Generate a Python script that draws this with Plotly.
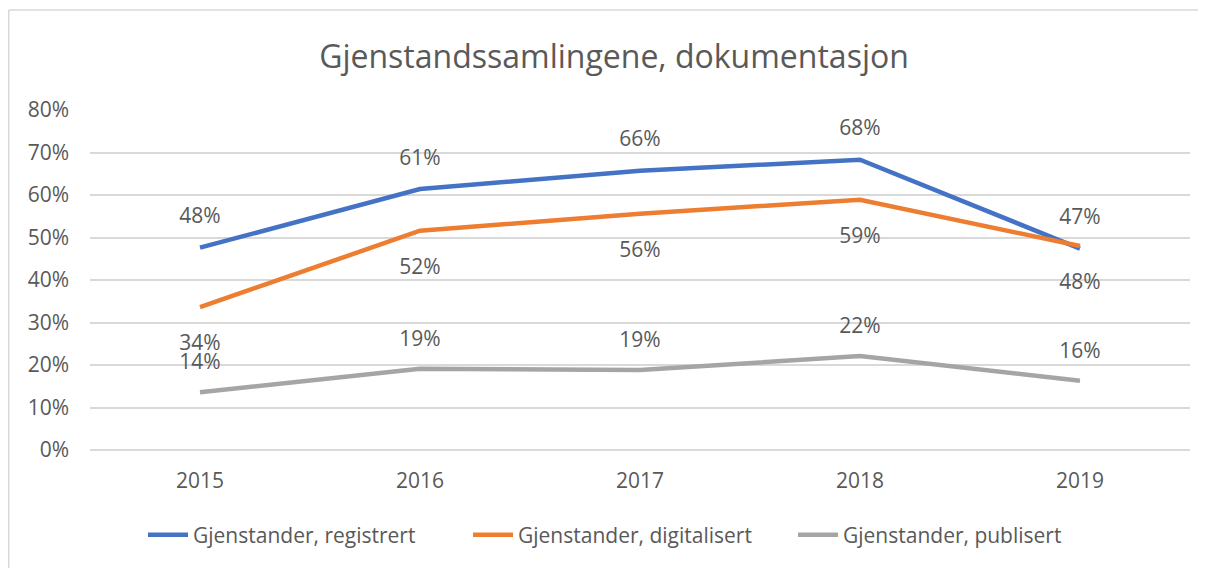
import plotly.graph_objects as go

years = ["2015", "2016", "2017", "2018", "2019"]
registrert = [0.476, 0.614, 0.657, 0.683, 0.474]
digitalisert = [0.336, 0.516, 0.556, 0.589, 0.480]
publisert = [0.136, 0.191, 0.188, 0.221, 0.163]

series_names = ["Gjenstander, registrert", "Gjenstander, digitalisert", "Gjenstander, publisert"]
series_values = [registrert, digitalisert, publisert]
series_colors = ["#4472C4", "#ED7D31", "#A5A5A5"]
label_positions = ["top center", "bottom center", "top center"]
label_gaps = [29, 42, 27]   # invisible marker size, used only to space the value labels

FONT = "Open Sans"
TXT = "#595959"
FS = 21

W, H = 1198, 560          # page body has an 8px margin
L, R, T, B = 82, 16, 102, 118
PW, PH = W - L - R, H - T - B

fig = go.Figure()
for name, vals, col, pos, gap in zip(series_names, series_values, series_colors,
                                     label_positions, label_gaps):
    fig.add_trace(go.Scatter(
        x=years, y=vals, name=name,
        mode="lines+markers+text",
        line=dict(color=col, width=4.5),
        marker=dict(size=gap, color="rgba(0,0,0,0)", line=dict(width=0)),
        text=[f"{round(v*100)}%" for v in vals],
        textposition=pos,
        textfont=dict(family=FONT, size=FS, color=TXT),
        hoverinfo="skip",
    ))

x_left = (0.75 - L) / PW
y_top = (PH - (2 - T)) / PH
fig.update_layout(
    width=W, height=H,
    margin=dict(l=L, r=R, t=T, b=B, autoexpand=False),
    paper_bgcolor="white", plot_bgcolor="white",
    title=dict(text="Gjenstandssamlingene, dokumentasjon",
               x=606/W, xanchor="center", xref="container",
               y=1-49/H, yanchor="middle", yref="container",
               font=dict(family=FONT, size=32, color=TXT)),
    font=dict(family=FONT, color=TXT),
    showlegend=True,
    legend=dict(orientation="h", x=(135-L)/PW, xanchor="left", xref="paper",
                y=(PH-(527-T))/PH, yanchor="middle", yref="paper",
                font=dict(family=FONT, size=FS, color=TXT),
                entrywidth=270, itemwidth=40, tracegroupgap=0,
                bgcolor="rgba(0,0,0,0)"),
    shapes=[
        dict(type="line", xref="paper", yref="paper",
             x0=x_left, x1=x_left, y0=-2, y1=y_top,
             line=dict(color="#D9D9D9", width=1.5), layer="below"),
        dict(type="line", xref="paper", yref="paper",
             x0=x_left, x1=2, y0=y_top, y1=y_top,
             line=dict(color="#D9D9D9", width=1.5), layer="below"),
    ],
)
fig.update_xaxes(type="category", range=[-0.5, 4.5], showgrid=False, showline=False,
                 zeroline=False, ticks="", tickfont=dict(family=FONT, size=FS, color=TXT),
                 ticklabelstandoff=16)
fig.update_yaxes(range=[0, 0.8], dtick=0.1, tickformat=".0%", showgrid=True,
                 gridcolor="#D9D9D9", gridwidth=1.5, zeroline=True, zerolinecolor="#D9D9D9",
                 zerolinewidth=1.5, showline=False, ticks="",
                 tickfont=dict(family=FONT, size=FS, color=TXT), ticklabelstandoff=20)

fig.write_html("out.html")
